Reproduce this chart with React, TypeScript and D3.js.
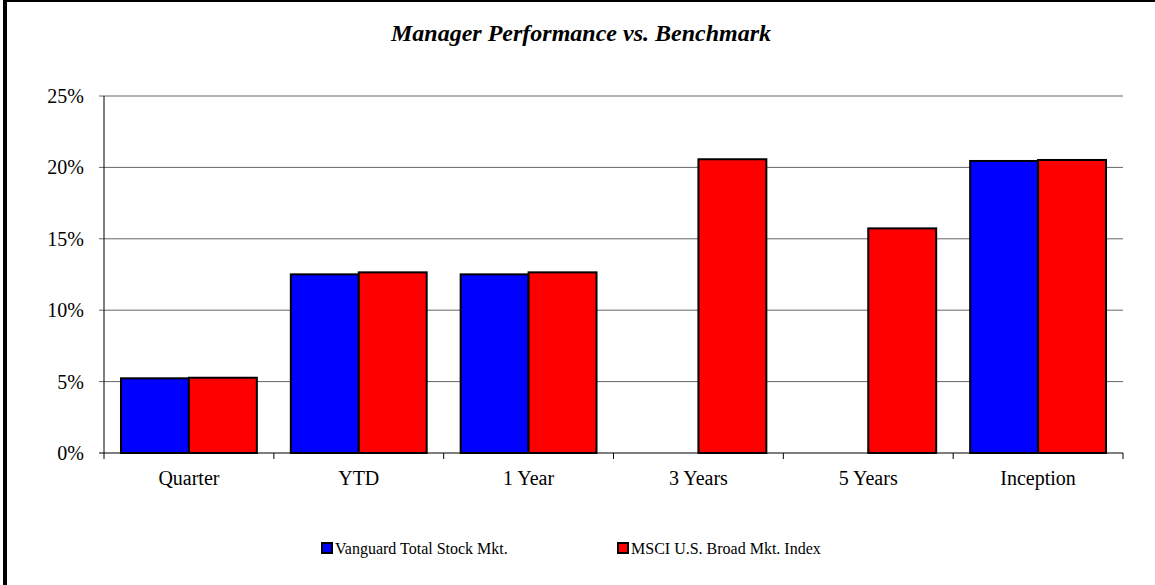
import React from "react";
import * as d3 from "d3";

const categories = ["Quarter", "YTD", "1 Year", "3 Years", "5 Years", "Inception"];
const seriesNames = ["Vanguard Total Stock Mkt.", "MSCI U.S. Broad Mkt. Index"];
const vanguard: (number | null)[] = [5.23, 12.51, 12.51, null, null, 20.45];
const msci: (number | null)[] = [5.27, 12.65, 12.65, 20.57, 15.73, 20.52];
const yTicks = [0, 5, 10, 15, 20, 25];
const colors = ["#0000FF", "#FF0000"];
const title = "Manager Performance vs. Benchmark";

const W = 1155;
const H = 585;
const M = { left: 104, right: 1123, top: 96, bottom: 453 };

export default function App() {
  const x = d3
    .scaleBand<string>()
    .domain(categories)
    .range([M.left, M.right])
    .paddingInner(0.2)
    .paddingOuter(0.1);
  const xOuter = d3.scaleBand<string>().domain(categories).range([M.left, M.right]).padding(0);
  const x1 = d3.scaleBand<number>().domain([0, 1]).range([0, x.bandwidth()]);
  const y = d3.scaleLinear().domain([0, 25]).range([M.bottom, M.top]);
  const series = [vanguard, msci];
  const serif = "'Liberation Serif', 'Times New Roman', serif";

  const boundaries = [...categories.map((c) => xOuter(c) as number), M.right];

  return (
    <svg
      width={W}
      height={H}
      style={{ position: "absolute", left: 0, top: 0, background: "#fff" }}
      fontFamily={serif}
    >
      <rect x={0} y={0} width={W} height={H} fill="#fff" />
      {/* frame */}
      <line x1={5} x2={5} y1={0} y2={H} stroke="#000" strokeWidth={4} />
      <line x1={3} x2={W} y1={1} y2={1} stroke="#000" strokeWidth={2} />

      <text
        x={581}
        y={41}
        textAnchor="middle"
        fontSize={24}
        fontWeight="bold"
        fontStyle="italic"
        fill="#000"
      >
        {title}
      </text>

      {/* gridlines & y ticks */}
      {yTicks.map((t) => (
        <g key={t}>
          <line
            x1={M.left - 5}
            x2={M.right}
            y1={y(t)}
            y2={y(t)}
            stroke={t === 0 ? "#000" : "#666"}
            strokeWidth={1}
          />
          <text x={84} y={y(t)} dy="0.35em" textAnchor="end" fontSize={20} fill="#000">
            {t}%
          </text>
        </g>
      ))}
      <line x1={M.left} x2={M.left} y1={M.top} y2={M.bottom} stroke="#000" strokeWidth={1} />

      {/* bars */}
      {categories.map((c, i) => (
        <g key={c}>
          {series.map((s, si) => {
            const v = s[i];
            if (v === null) return null;
            const bx = (x(c) as number) + (x1(si) as number);
            return (
              <rect
                key={si}
                x={bx}
                y={y(v)}
                width={x1.bandwidth()}
                height={y(0) - y(v)}
                fill={colors[si]}
                stroke="#000"
                strokeWidth={2}
              />
            );
          })}
        </g>
      ))}

      {/* x axis ticks */}
      {boundaries.map((b, i) => (
        <line key={i} x1={b} x2={b} y1={M.bottom} y2={M.bottom + 6} stroke="#000" strokeWidth={1} />
      ))}
      {categories.map((c) => (
        <text
          key={c}
          x={(x(c) as number) + x.bandwidth() / 2}
          y={485}
          textAnchor="middle"
          fontSize={20}
          fill="#000"
        >
          {c}
        </text>
      ))}

      {/* legend */}
      {seriesNames.map((n, i) => {
        const lx = [322, 618][i];
        return (
          <g key={n}>
            <rect x={lx} y={543} width={10} height={10} fill={colors[i]} stroke="#000" strokeWidth={2} />
            <text x={lx + 13} y={554} fontSize={16} fill="#000">
              {n}
            </text>
          </g>
        );
      })}
    </svg>
  );
}
